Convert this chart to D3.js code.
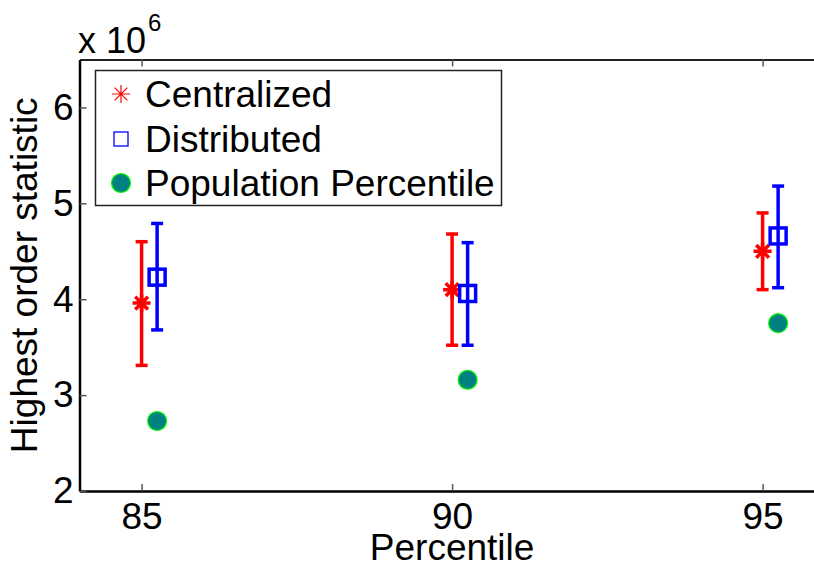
<!DOCTYPE html>
<html>
<head>
<meta charset="utf-8">
<script src="https://d3js.org/d3.v7.min.js"></script>
<style>
  body { margin: 0; background: #fff; }
  svg { display: block; font-family: "Liberation Sans", Arial, sans-serif; }
</style>
</head>
<body>
<div id="chart"></div>
<script>
const w = 814;
const h = 569;
const fs = 37;

// percentile groups and the statistics for each (values in units of 10^6)
const percentiles = [85, 90, 95];
const centralMean = [3.96, 4.10, 4.50];
const centralLow = [3.31, 3.52, 4.10];
const centralHigh = [4.60, 4.68, 4.90];
const distMean = [4.23, 4.06, 4.66];
const distLow = [3.68, 3.52, 4.12];
const distHigh = [4.79, 4.59, 5.18];
const popPercentile = [2.73, 3.16, 3.75];
const shift = 0.25; // distributed / population drawn slightly right of the tick

const xTicks = [85, 90, 95];
const yTicks = [2, 3, 4, 5, 6];

const plotLeft = 79.5, plotTop = 59.5, plotBottom = 491;

const x = d3.scaleLinear().domain([84, 96]).range([plotLeft, plotLeft + 12 * 62.1]);
const y = d3.scaleLinear().domain([2, 6.5]).range([plotBottom, plotTop]);

const svg = d3.select("#chart").append("svg")
  .attr("width", w)
  .attr("height", h);

// axes box
const tickLen = 7;
svg.append("g")
  .attr("transform", "translate(0," + plotBottom + ")")
  .call(d3.axisBottom(x).tickValues(xTicks).tickSize(-tickLen).tickPadding(12).tickSizeOuter(0))
  .call(g => {
    g.select(".domain").attr("stroke", "#000").attr("stroke-width", 2.5);
    g.selectAll(".tick line").attr("stroke", "#555").attr("stroke-width", 1.5);
    g.selectAll("text").attr("font-size", fs).attr("fill", "#000").attr("dy", "0.71em");
  });

svg.append("g")
  .attr("transform", "translate(0," + plotTop + ")")
  .call(d3.axisTop(x).tickValues(xTicks).tickSize(-tickLen).tickFormat("").tickSizeOuter(0))
  .call(g => {
    g.select(".domain").attr("stroke", "#222").attr("stroke-width", 2);
    g.selectAll(".tick line").attr("stroke", "#555").attr("stroke-width", 1.5);
  });

svg.append("g")
  .attr("transform", "translate(" + plotLeft + ",0)")
  .call(d3.axisLeft(y).tickValues(yTicks).tickFormat(d3.format("d"))
    .tickSize(-tickLen).tickPadding(6).tickSizeOuter(0))
  .call(g => {
    g.select(".domain").attr("stroke", "#000").attr("stroke-width", 2.5);
    g.selectAll(".tick line").attr("stroke", "#555").attr("stroke-width", 1.5);
    g.selectAll("text").attr("font-size", fs).attr("fill", "#000");
  });

// axis titles
svg.append("text")
  .attr("x", x(90))
  .attr("y", 560)
  .attr("text-anchor", "middle")
  .attr("font-size", fs)
  .text("Percentile");

svg.append("text")
  .attr("transform", "translate(37," + ((plotTop + plotBottom) / 2) + ") rotate(-90)")
  .attr("text-anchor", "middle")
  .attr("font-size", fs)
  .text("Highest order statistic");

// exponent label
const expo = svg.append("text")
  .attr("x", 78)
  .attr("y", 53)
  .attr("font-size", fs - 1);
expo.append("tspan").text("x 10");
expo.append("tspan").attr("font-size", 24).attr("dy", -22).attr("dx", 2).text("6");

// error bars
function errorBars(xs, lo, hi, color) {
  const g = svg.append("g").attr("stroke", color).attr("stroke-width", 3.5).attr("fill", "none");
  const cap = 6;
  xs.forEach((px, i) => {
    g.append("line").attr("x1", px).attr("x2", px).attr("y1", y(lo[i])).attr("y2", y(hi[i]));
    g.append("line").attr("x1", px - cap).attr("x2", px + cap).attr("y1", y(lo[i])).attr("y2", y(lo[i]));
    g.append("line").attr("x1", px - cap).attr("x2", px + cap).attr("y1", y(hi[i])).attr("y2", y(hi[i]));
  });
  return g;
}

function asterisk(g, cx, cy, r, sw) {
  const d = r * Math.SQRT1_2;
  g.append("path")
    .attr("d", `M${cx - r},${cy}H${cx + r}M${cx},${cy - r}V${cy + r}` +
      `M${cx - d},${cy - d}L${cx + d},${cy + d}M${cx - d},${cy + d}L${cx + d},${cy - d}`)
    .attr("stroke", "#ff0000")
    .attr("stroke-width", sw)
    .attr("fill", "none");
}

const cx = percentiles.map(p => x(p));
const dx = percentiles.map(p => x(p + shift));

errorBars(cx, centralLow, centralHigh, "#ff0000");
const cMarks = svg.append("g");
cx.forEach((px, i) => asterisk(cMarks, px, y(centralMean[i]), 9, 3.5));

errorBars(dx, distLow, distHigh, "#0000ff");
svg.append("g").selectAll("rect")
  .data(distMean)
  .join("rect")
  .attr("x", (d, i) => dx[i] - 8)
  .attr("y", d => y(d) - 8)
  .attr("width", 16)
  .attr("height", 16)
  .attr("fill", "none")
  .attr("stroke", "#0000ff")
  .attr("stroke-width", 3.5);

svg.append("g").selectAll("circle")
  .data(popPercentile)
  .join("circle")
  .attr("cx", (d, i) => dx[i])
  .attr("cy", d => y(d))
  .attr("r", 9.5)
  .attr("fill", "#008080")
  .attr("stroke", "#00ff00")
  .attr("stroke-width", 1.2);

// legend
const legend = svg.append("g");
legend.append("rect")
  .attr("x", 95.5).attr("y", 70.5)
  .attr("width", 406).attr("height", 135)
  .attr("fill", "#fff")
  .attr("stroke", "#222")
  .attr("stroke-width", 1.5);

const legendRows = [
  { label: "Centralized", y: 94 },
  { label: "Distributed", y: 139 },
  { label: "Population Percentile", y: 183 }
];
asterisk(legend, 121, legendRows[0].y, 9, 1.2);
legend.append("rect")
  .attr("x", 114).attr("y", legendRows[1].y - 7)
  .attr("width", 14).attr("height", 14)
  .attr("fill", "none").attr("stroke", "#0000ff").attr("stroke-width", 1.3);
legend.append("circle")
  .attr("cx", 121).attr("cy", legendRows[2].y).attr("r", 9.5)
  .attr("fill", "#008080").attr("stroke", "#00ff00").attr("stroke-width", 1.2);

legend.selectAll("text.lbl")
  .data(legendRows)
  .join("text")
  .attr("class", "lbl")
  .attr("x", 145)
  .attr("y", d => d.y)
  .attr("dy", "0.36em")
  .attr("font-size", fs)
  .text(d => d.label);
</script>
</body>
</html>
